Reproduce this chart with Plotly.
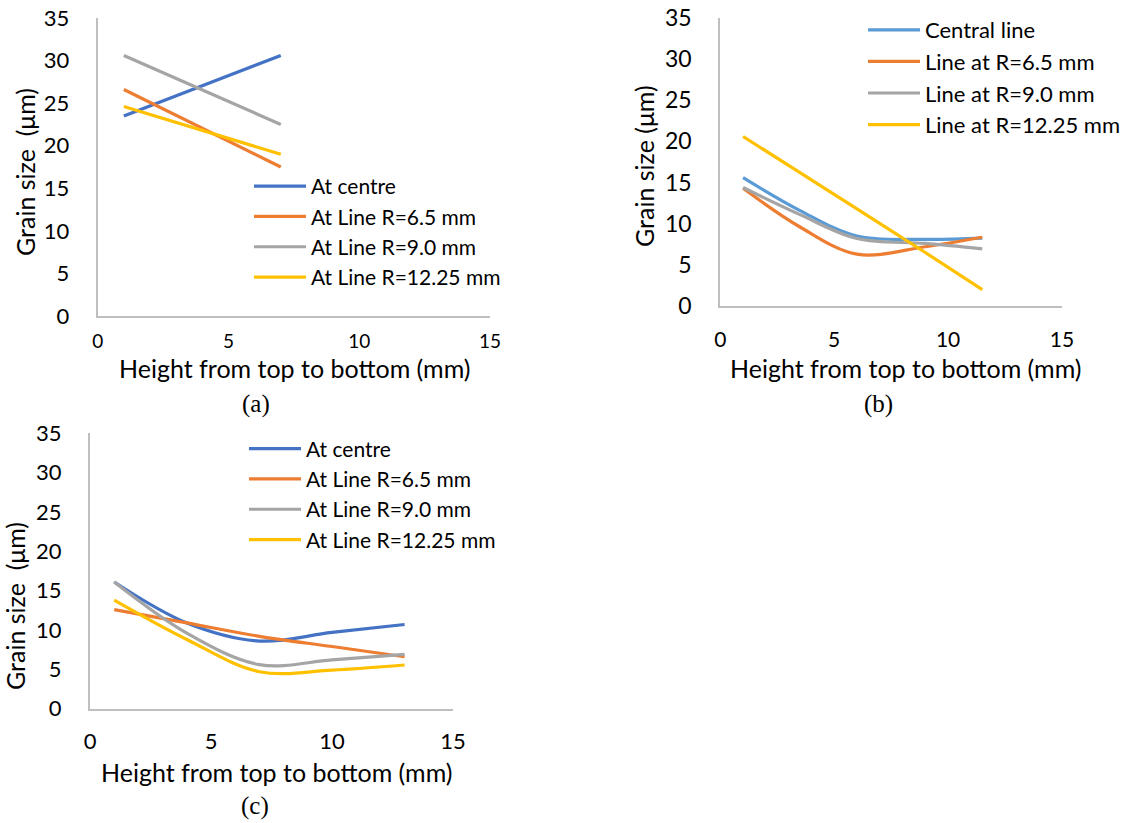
import plotly.graph_objects as go

W, H = 1124, 823

# ---------------- data ----------------
# (a)
xa = [1, 7]
a_centre = [23.5, 30.6]
a_r65 = [26.6, 17.5]
a_r90 = [30.6, 22.5]
a_r1225 = [24.6, 19.0]
a_names = ["At centre", "At Line R=6.5 mm", "At Line R=9.0 mm", "At Line R=12.25 mm"]

# (b)
xb = [1, 3.5, 6, 9, 11.5]
b_central = [15.6, 11.6, 8.5, 8.1, 8.25]
b_r65 = [14.3, 9.6, 6.3, 7.2, 8.35]
b_r90 = [14.4, 11.1, 8.2, 7.6, 6.95]
b_r1225 = [20.6, 16.2, 11.8, 6.5, 2.0]
b_names = ["Central line", "Line at R=6.5 mm", "Line at R=9.0 mm", "Line at R=12.25 mm"]

# (c)
xc = [1, 4, 7, 10, 13]
c_centre = [16.1, 10.9, 8.6, 9.7, 10.7]
c_r65 = [12.6, 10.9, 9.2, 7.9, 6.6]
c_r90 = [16.1, 9.6, 5.6, 6.2, 6.9]
c_r1225 = [13.8, 8.8, 4.7, 4.9, 5.55]
c_names = ["At centre", "At Line R=6.5 mm", "At Line R=9.0 mm", "At Line R=12.25 mm"]

x_ticks = [0, 5, 10, 15]
y_ticks = [0, 5, 10, 15, 20, 25, 30, 35]

colors_a = ["#4472C4", "#ED7D31", "#A5A5A5", "#FFC000"]
colors_b = ["#5B9BD5", "#ED7D31", "#A5A5A5", "#FFC000"]

FONT = "Lato"

def px_x(p):
    return p / W

def px_y(p):
    return 1 - p / H

fig = go.Figure()

panels = [
    ("x", "y", "legend", xa, [a_centre, a_r65, a_r90, a_r1225], a_names, colors_a, "linear"),
    ("x2", "y2", "legend2", xb, [b_central, b_r65, b_r90, b_r1225], b_names, colors_b, "spline"),
    ("x3", "y3", "legend3", xc, [c_centre, c_r65, c_r90, c_r1225], c_names, colors_a, "spline"),
]
for xr, yr, lg, xs, series, names, cols, shape in panels:
    for ys, nm, col in zip(series, names, cols):
        fig.add_trace(go.Scatter(
            x=xs, y=ys, name=nm, mode="lines",
            line=dict(color=col, width=3.2, shape=shape, smoothing=1.0),
            xaxis=xr, yaxis=yr, legend=lg,
        ))

# plot area geometry in pixels: (left, right, top, bottom)
geo = {
    "1": (97.7, 490, 18, 316),
    "2": (720.3, 1062, 18, 306),
    "3": (90, 453, 433.3, 708.7),
}
xtick_size = {"1": 19, "2": 21, "3": 22}
ytick_size = {"1": 22, "2": 23, "3": 22}
xtick_stand = {"1": 7, "2": 14, "3": 12}

layout = dict(
    width=W, height=H,
    margin=dict(l=0, r=0, t=0, b=0, autoexpand=False),
    paper_bgcolor="white", plot_bgcolor="white",
    font=dict(family=FONT, color="black"),
    showlegend=True,
)
for k, (l, r, t, b) in geo.items():
    xn = "xaxis" if k == "1" else "xaxis" + k
    yn = "yaxis" if k == "1" else "yaxis" + k
    anc_y = "y" if k == "1" else "y" + k
    anc_x = "x" if k == "1" else "x" + k
    layout[xn] = dict(
        domain=[px_x(l), px_x(r)], anchor=anc_y, range=[0, 15],
        tickvals=x_ticks, showgrid=False, zeroline=False,
        showline=True, linecolor="#BFBFBF", linewidth=2,
        ticks="", ticklabelstandoff=xtick_stand[k], automargin=False,
        tickfont=dict(family=FONT, size=xtick_size[k], color="black"),
    )
    layout[yn] = dict(
        domain=[px_y(b), px_y(t)], anchor=anc_x, range=[0, 35],
        tickvals=y_ticks, showgrid=False, zeroline=False,
        showline=True, linecolor="#BFBFBF", linewidth=2,
        ticks="", ticklabelstandoff=22, automargin=False,
        tickfont=dict(family=FONT, size=ytick_size[k], color="black"),
    )

leg_common = dict(
    bgcolor="rgba(0,0,0,0)", borderwidth=0, xanchor="left", yanchor="top",
    itemwidth=52, tracegroupgap=0,
)
layout["legend"] = dict(leg_common, x=px_x(249), y=px_y(166),
                        font=dict(family=FONT, size=21, color="black"))
layout["legend2"] = dict(leg_common, x=px_x(863), y=px_y(9),
                         font=dict(family=FONT, size=22, color="black"))
layout["legend3"] = dict(leg_common, x=px_x(244), y=px_y(428.5),
                         font=dict(family=FONT, size=21, color="black"))

fig.update_layout(**layout)

# axis titles and captions
ann = []
def add_text(txt, cx, cy, size, angle=0, family=FONT):
    ann.append(dict(
        text=txt, x=px_x(cx), y=px_y(cy), xref="paper", yref="paper",
        showarrow=False, xanchor="center", yanchor="middle", textangle=angle,
        font=dict(family=family, size=size, color="black"),
    ))

add_text("Height from top to bottom (mm)", 294, 368, 25)
add_text("Grain size  (μm)", 25, 172, 25, angle=-90)
add_text("(a)", 256, 404, 25, family="Liberation Serif")

add_text("Height from top to bottom (mm)", 905, 368, 25)
add_text("Grain size (μm)", 644, 166, 25, angle=-90)
add_text("(b)", 878, 404, 25, family="Liberation Serif")

add_text("Height from top to bottom (mm)", 276, 772, 25)
add_text("Grain size  (μm)", 15, 606, 25, angle=-90)
add_text("(c)", 255, 806, 25, family="Liberation Serif")

fig.update_layout(annotations=ann)

fig.write_html("out.html")
